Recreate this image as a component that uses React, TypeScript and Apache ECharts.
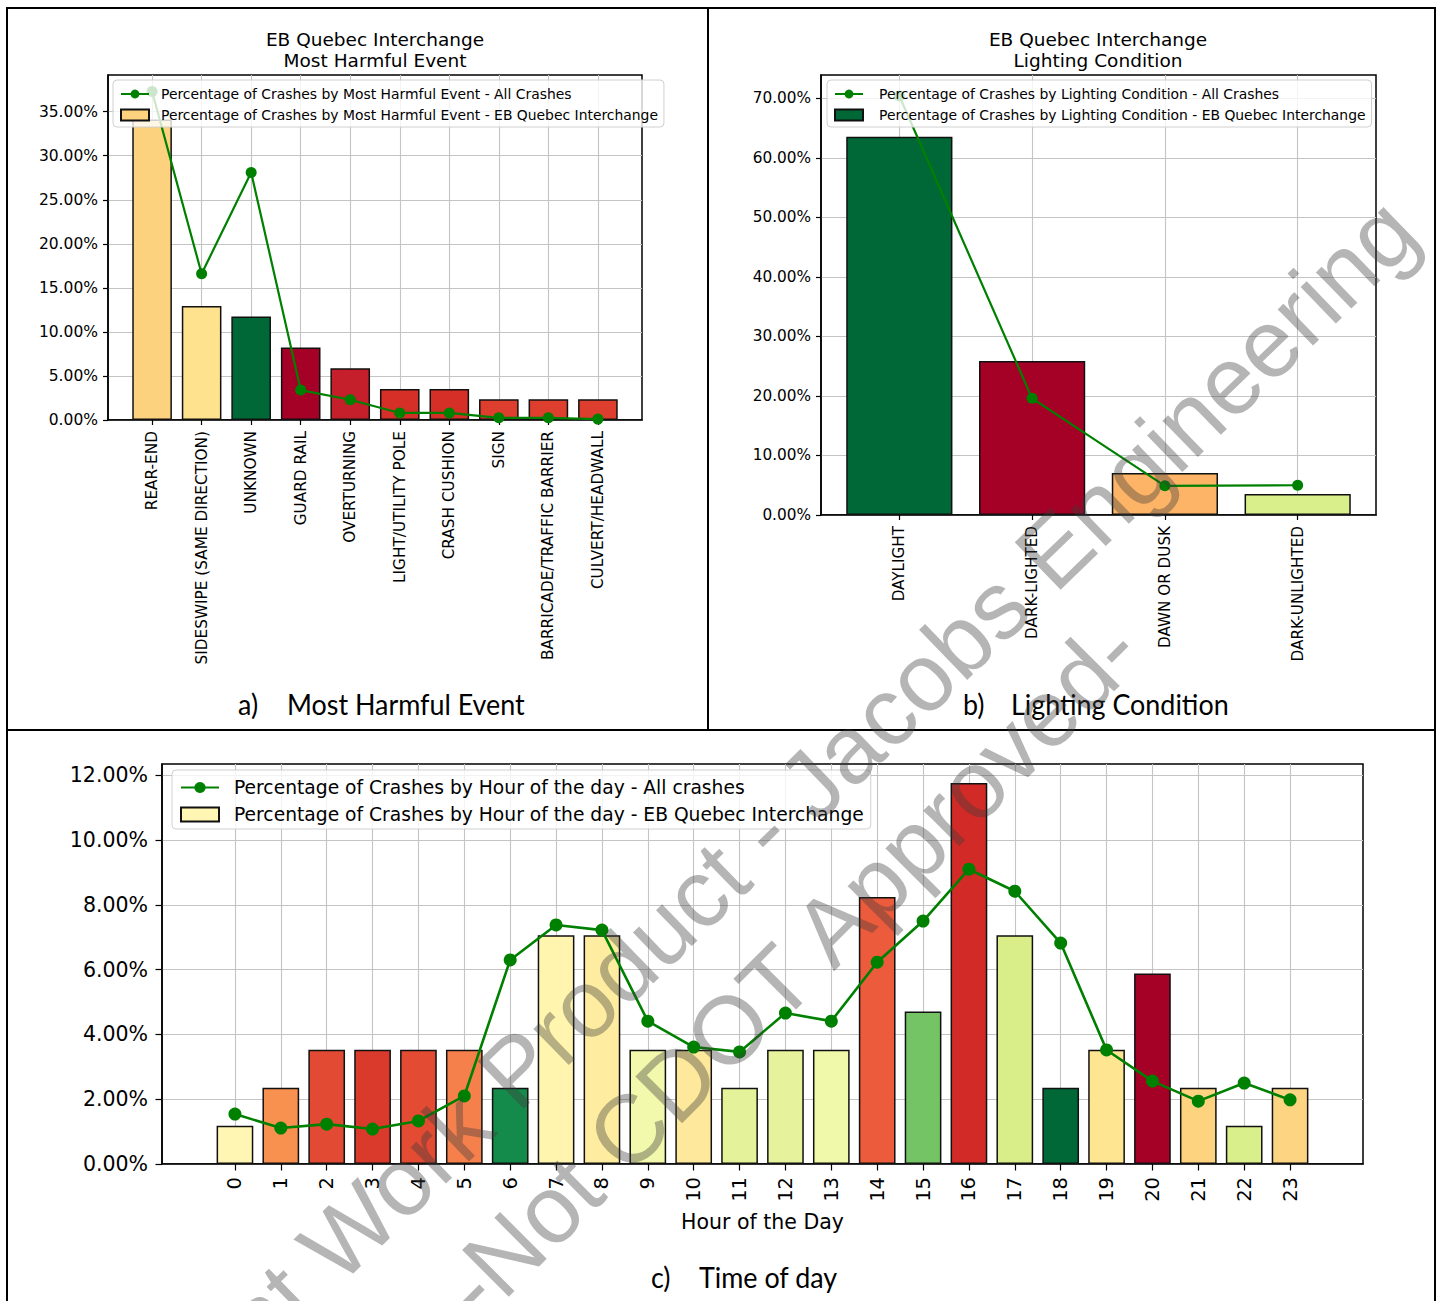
import React, { useEffect, useRef } from 'react';
import * as echarts from 'echarts';

// ---- Panel a: most harmful event ----
const harmfulCategories = [
  'REAR-END',
  'SIDESWIPE (SAME DIRECTION)',
  'UNKNOWN',
  'GUARD RAIL',
  'OVERTURNING',
  'LIGHT/UTILITY POLE',
  'CRASH CUSHION',
  'SIGN',
  'BARRICADE/TRAFFIC BARRIER',
  'CULVERT/HEADWALL',
];
const harmfulQuebec = [34.12, 12.94, 11.76, 8.24, 5.88, 3.53, 3.53, 2.35, 2.35, 2.35];
const harmfulAll = [37.3, 16.6, 28.1, 3.4, 2.3, 0.8, 0.8, 0.25, 0.25, 0.1];
const harmfulColors = ['#fdd27f', '#fee28e', '#006837', '#a50026', '#c41f2b', '#d62f27', '#d62f27', '#dd3e2d', '#dd3e2d', '#dd3e2d'];
const harmfulTicks = [0, 5, 10, 15, 20, 25, 30, 35];

// ---- Panel b: lighting condition ----
const lightingCategories = ['DAYLIGHT', 'DARK-LIGHTED', 'DAWN OR DUSK', 'DARK-UNLIGHTED'];
const lightingQuebec = [63.53, 25.88, 7.06, 3.53];
const lightingAll = [70.4, 19.6, 4.9, 5.0];
const lightingColors = ['#006837', '#a50026', '#fdb466', '#d9ef8b'];
const lightingTicks = [0, 10, 20, 30, 40, 50, 60, 70];

// ---- Panel c: hour of the day ----
const hourCategories = ['0', '1', '2', '3', '4', '5', '6', '7', '8', '9', '10', '11', '12', '13', '14', '15', '16', '17', '18', '19', '20', '21', '22', '23'];
const hourQuebec = [1.18, 2.35, 3.53, 3.53, 3.53, 3.53, 2.35, 7.06, 7.06, 3.53, 3.53, 2.35, 3.53, 3.53, 8.24, 4.71, 11.76, 7.06, 2.35, 3.53, 5.88, 2.35, 1.18, 2.35];
const hourAll = [1.54, 1.11, 1.23, 1.08, 1.33, 2.1, 6.3, 7.38, 7.22, 4.41, 3.61, 3.46, 4.66, 4.41, 6.23, 7.5, 9.1, 8.42, 6.82, 3.52, 2.56, 1.94, 2.5, 1.98];
const hourColors = [
  '#fef6b2', '#f8914f', '#e24a33', '#da3a2c', '#e34b33', '#f5804c', '#158b4b', '#fff5ae',
  '#feeda1', '#f2f8ac', '#fde89b', '#e4f29a', '#e6f39c', '#f0f8aa', '#ec5b3b', '#74c365',
  '#d22b27', '#d9ee89', '#006837', '#fee592', '#a50026', '#fdd37f', '#d9ef8b', '#fdd481',
];
const hourTicks = [0, 2, 4, 6, 8, 10, 12];

const FONT = 'DejaVu Sans';
const CAPTION_FONT = 'Lato';
const GREEN = '#008000';

interface PanelSpec {
  index: number;
  grid: { left: number; top: number; width: number; height: number };
  categories: string[];
  bars: number[];
  line: number[];
  colors: string[];
  yTicks: number[];
  barName: string;
  lineName: string;
  tickFont: number;
  tickLength: number;
  yLabelMargin: number;
  xLabelFont: number;
  xLabelMargin: number;
  legend: {
    left: number; top: number; font: number; itemWidth: number; itemHeight: number;
    itemGap: number; padding: number[]; textPad: number;
  };
  symbolSize: number;
  lineWidth: number;
  xName?: string;
}

function buildPanel(p: PanelSpec) {
  const n = p.categories.length;
  // bar width 0.8, 5% data margin on both sides (matplotlib autoscale)
  const pad = 0.05 * (n - 1 + 0.8);
  const xMin = -0.4 - pad;
  const xMax = n - 1 + 0.4 + pad;
  const yMax = 1.05 * Math.max(...p.bars, ...p.line);
  const positions = p.categories.map((_, i) => i);

  const xAxis: any = {
    type: 'value',
    gridIndex: p.index,
    min: xMin,
    max: xMax,
    axisLine: { show: true, onZero: false, lineStyle: { color: '#000', width: 1.5 } },
    axisTick: { show: true, length: p.tickLength, customValues: positions, lineStyle: { color: '#000', width: 1.2 } },
    axisLabel: {
      customValues: positions,
      rotate: 90,
      margin: p.xLabelMargin,
      fontFamily: FONT,
      fontSize: p.xLabelFont,
      color: '#000',
      formatter: (v: number) => p.categories[Math.round(v)] ?? '',
    },
    splitLine: { show: true, lineStyle: { color: '#c4c4c4', width: 1.1 } },
  };
  if (p.xName) {
    Object.assign(xAxis, {
      name: p.xName,
      nameLocation: 'middle',
      nameGap: 47,
      nameTextStyle: { fontFamily: FONT, fontSize: 20.5, color: '#000' },
    });
  }

  const yAxis = {
    type: 'value',
    gridIndex: p.index,
    min: 0,
    max: yMax,
    axisLine: { show: true, onZero: false, lineStyle: { color: '#000', width: 1.5 } },
    axisTick: { show: true, length: p.tickLength, customValues: p.yTicks, lineStyle: { color: '#000', width: 1.2 } },
    axisLabel: {
      customValues: p.yTicks,
      margin: p.yLabelMargin,
      fontFamily: FONT,
      fontSize: p.tickFont,
      color: '#000',
      formatter: (v: number) => v.toFixed(2) + '%',
    },
    splitLine: { show: true, lineStyle: { color: '#c4c4c4', width: 1.1 } },
  };

  const barSeries = {
    type: 'bar',
    name: p.barName,
    xAxisIndex: p.index,
    yAxisIndex: p.index,
    barWidth: '80%',
    itemStyle: { color: p.colors[0], borderColor: '#111', borderWidth: 1.5 },
    data: p.bars.map((v, i) => ({ value: [i, v], itemStyle: { color: p.colors[i] } })),
    z: 2,
  };

  const lineSeries = {
    type: 'line',
    name: p.lineName,
    xAxisIndex: p.index,
    yAxisIndex: p.index,
    symbol: 'circle',
    symbolSize: p.symbolSize,
    showAllSymbol: true,
    lineStyle: { color: GREEN, width: p.lineWidth },
    itemStyle: { color: GREEN },
    data: p.line.map((v, i) => [i, v]),
    z: 3,
  };

  const legend = {
    show: true,
    orient: 'vertical',
    left: p.legend.left,
    top: p.legend.top,
    data: [{ name: p.lineName }, { name: p.barName, icon: 'rect' }],
    itemWidth: p.legend.itemWidth,
    itemHeight: p.legend.itemHeight,
    itemGap: p.legend.itemGap,
    padding: p.legend.padding,
    backgroundColor: 'rgba(255,255,255,0.8)',
    borderColor: '#d0d0d0',
    borderWidth: 1,
    borderRadius: 4,
    selectedMode: false,
    textStyle: {
      fontFamily: FONT,
      fontSize: p.legend.font,
      color: '#000',
      padding: [0, 0, 0, p.legend.textPad],
    },
  };

  const grid = {
    ...p.grid,
    show: true,
    borderColor: '#000',
    borderWidth: 1.5,
    backgroundColor: 'transparent',
    containLabel: false,
  };

  return { grid, xAxis, yAxis, series: [barSeries, lineSeries], legend };
}

const panels: PanelSpec[] = [
  {
    index: 0,
    grid: { left: 108, top: 75, width: 534, height: 345 },
    categories: harmfulCategories,
    bars: harmfulQuebec,
    line: harmfulAll,
    colors: harmfulColors,
    yTicks: harmfulTicks,
    barName: 'Percentage of Crashes by Most Harmful Event - EB Quebec Interchange',
    lineName: 'Percentage of Crashes by Most Harmful Event - All Crashes',
    tickFont: 15.5,
    tickLength: 5,
    yLabelMargin: 10,
    xLabelFont: 15.3,
    xLabelMargin: 11,
    legend: { left: 113, top: 80, font: 13.9, itemWidth: 28, itemHeight: 11, itemGap: 7, padding: [7, 6, 5, 7], textPad: 7 },
    symbolSize: 11,
    lineWidth: 2.2,
  },
  {
    index: 1,
    grid: { left: 821, top: 75, width: 555, height: 440 },
    categories: lightingCategories,
    bars: lightingQuebec,
    line: lightingAll,
    colors: lightingColors,
    yTicks: lightingTicks,
    barName: 'Percentage of Crashes by Lighting Condition - EB Quebec Interchange',
    lineName: 'Percentage of Crashes by Lighting Condition - All Crashes',
    tickFont: 15.3,
    tickLength: 5,
    yLabelMargin: 10,
    xLabelFont: 15.2,
    xLabelMargin: 11,
    legend: { left: 827, top: 80, font: 13.9, itemWidth: 28, itemHeight: 11, itemGap: 7, padding: [7, 6, 5, 7], textPad: 11 },
    symbolSize: 11,
    lineWidth: 2.2,
  },
  {
    index: 2,
    grid: { left: 162, top: 764, width: 1201, height: 400 },
    categories: hourCategories,
    bars: hourQuebec,
    line: hourAll,
    colors: hourColors,
    yTicks: hourTicks,
    barName: 'Percentage of Crashes by Hour of the day - EB Quebec Interchange',
    lineName: 'Percentage of Crashes by Hour of the day - All crashes',
    tickFont: 20.5,
    tickLength: 6.5,
    yLabelMargin: 14,
    xLabelFont: 19.5,
    xLabelMargin: 13,
    legend: { left: 172, top: 770, font: 18.7, itemWidth: 38, itemHeight: 14, itemGap: 8, padding: [8, 7, 5, 8], textPad: 10 },
    symbolSize: 13,
    lineWidth: 2.6,
    xName: 'Hour of the Day',
  },
];

function buildOption() {
  const built = panels.map(buildPanel);
  const deg = Math.PI / 180;

  const border = (x1: number, y1: number, x2: number, y2: number) => ({
    type: 'line',
    shape: { x1, y1, x2, y2 },
    style: { stroke: '#000', lineWidth: 2 },
    z: 20,
  });

  const title = (x: number, text: string) => ({
    type: 'text',
    x,
    y: 49.5,
    style: { text, fill: '#000', fontFamily: FONT, fontSize: 18.5, lineHeight: 21, align: 'center', verticalAlign: 'middle' },
    z: 20,
  });

  const caption = (x: number, y: number, text: string) => ({
    type: 'text',
    x,
    y,
    scaleX: 0.96,
    style: { text, fill: '#000', fontFamily: CAPTION_FONT, fontSize: 28, align: 'left', verticalAlign: 'middle' },
    z: 20,
  });

  const watermarkStyle = { fill: 'rgba(60,60,60,0.38)', fontFamily: 'Liberation Sans', fontSize: 96, verticalAlign: 'middle' };

  const graphic = [
    border(6, 8, 1436, 8),
    border(7, 7, 7, 1301),
    border(1435, 7, 1435, 1301),
    border(708, 8, 708, 730),
    border(6, 730, 1436, 730),
    title(375, 'EB Quebec Interchange\nMost Harmful Event'),
    title(1098, 'EB Quebec Interchange\nLighting Condition'),
    caption(238, 704, 'a)'),
    caption(287, 704, 'Most Harmful Event'),
    caption(963, 704, 'b)'),
    caption(1011, 704, 'Lighting Condition'),
    caption(651, 1277, 'c)'),
    caption(699, 1277, 'Time of day'),
    {
      type: 'text',
      x: 1400,
      y: 215,
      rotation: 44 * deg,
      style: { ...watermarkStyle, text: 'Consultant Work Product - Jacobs Engineering', align: 'right' },
      z: 30,
    },
    {
      type: 'text',
      x: 790,
      y: 968,
      rotation: 45 * deg,
      style: { ...watermarkStyle, text: '-Not CDOT Approved-', align: 'center' },
      z: 30,
    },
  ];

  return {
    animation: false,
    backgroundColor: '#fff',
    textStyle: { fontFamily: FONT },
    grid: built.map((b) => b.grid),
    xAxis: built.map((b) => b.xAxis),
    yAxis: built.map((b) => b.yAxis),
    legend: built.map((b) => b.legend),
    series: built.flatMap((b) => b.series),
    graphic,
  };
}

export default function App() {
  const ref = useRef<HTMLDivElement>(null);
  useEffect(() => {
    document.body.style.margin = '0';
    const chart = echarts.init(ref.current!, null, { renderer: 'svg' });
    chart.setOption(buildOption() as any);
    return () => chart.dispose();
  }, []);
  return <div ref={ref} style={{ width: 1441, height: 1301 }} />;
}
